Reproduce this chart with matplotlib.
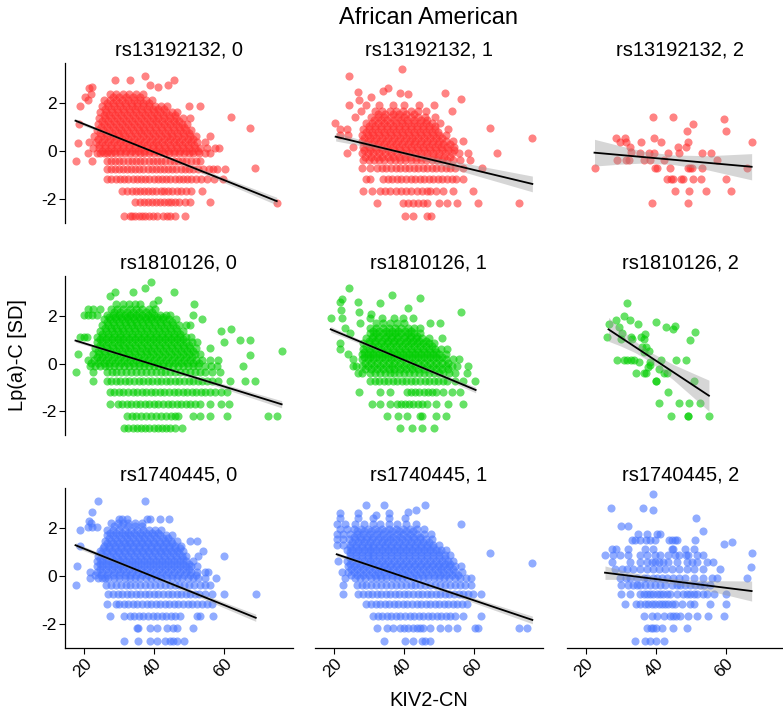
import numpy as np
import matplotlib.pyplot as plt

plt.rcParams['font.family'] = ['Liberation Sans', 'DejaVu Sans']
plt.rcParams['axes.unicode_minus'] = False

#################### data ####################
snps = ['rs13192132', 'rs1810126', 'rs1740445']
genotypes = ['0', '1', '2']
snp_colors = ['#FF3030', '#00CD00', '#4876FF']

# rs13192132, 0   (y level : KIV2-CN values)
p1_rows = {
    -2.72: [31.4, 33.0, 33.6, 34.5, 35.5, 36.6, 37.4, 38.5, 39.5, 40.9, 42.5, 43.5, 44.4, 46.0, 48.8],
    -2.15: [34.5, 35.8, 37.0, 38.2, 39.3, 40.5, 41.5, 42.7, 43.8, 44.8, 46.0, 47.2, 48.8, 50.3, 55.9],
    -1.68: [30.9, 32.2, 33.6, 34.8, 36.0, 37.2, 38.3, 39.4, 40.6, 41.8, 42.9, 44.0, 45.2, 46.4, 47.5, 49.0, 50.5, 53.5],
    -1.17: [26.4, 27.7, 29.0, 30.2, 31.4, 32.6, 33.8, 35.0, 36.2, 37.4, 38.6, 39.8, 41.0, 42.2, 43.4, 44.6, 45.8, 47.0,
            48.2, 49.4, 50.6, 52.0, 53.3, 55.0, 57.0, 59.7],
    -0.75: [26.4, 27.5, 28.7, 29.9, 31.0, 32.2, 33.4, 34.6, 35.7, 36.9, 38.1, 39.3, 40.4, 41.6, 42.8, 44.0, 45.1, 46.3,
            47.5, 48.7, 49.9, 51.2, 52.6, 54.0, 55.5, 56.8, 58.0, 60.2],
    -0.40: [22.1, 26.4, 27.6, 28.8, 30.0, 31.2, 32.4, 33.6, 34.8, 36.0, 37.2, 38.4, 39.6, 40.8, 42.0, 43.2, 44.4, 45.6,
            46.8, 48.0, 49.2, 50.4, 51.8, 53.0],
    -0.10: [21.0, 23.6, 24.6, 25.5, 26.5, 27.5, 28.8, 30.2, 31.6, 33.0, 34.4, 35.8, 37.2, 38.6, 40.0, 41.4, 42.8, 44.2,
            45.6, 47.0, 48.4, 49.8, 51.2, 52.8, 54.5, 56.0],
    0.01: [25.0, 26.9, 28.6, 30.3, 32.0, 33.7, 35.4, 37.1, 38.8, 40.5, 42.2, 43.9, 45.6, 47.3, 49.0, 50.7, 52.4],
    0.12: [22.6, 24.3, 26.0, 27.7, 29.4, 31.1, 32.8, 34.5, 36.2, 37.9, 39.6, 41.3, 43.0, 44.7, 46.4, 48.1, 49.8, 51.5,
           53.2, 55.0, 57.3, 58.6],
    0.25: [24.2, 25.9, 27.6, 29.3, 31.0, 32.7, 34.4, 36.1, 37.8, 39.5, 41.2, 42.9, 44.6, 46.3, 48.0, 49.7, 51.4],
    0.37: [21.4, 23.4, 25.1, 26.8, 28.5, 30.2, 31.9, 33.6, 35.3, 37.0, 38.7, 40.4, 42.1, 43.8, 45.5, 47.2, 48.9, 50.6,
           52.3, 54.5],
    0.50: [24.0, 25.7, 27.4, 29.1, 30.8, 32.5, 34.2, 35.9, 37.6, 39.3, 41.0, 42.7, 44.4, 46.1, 47.8, 49.5, 51.0],
    0.62: [22.9, 24.8, 26.5, 28.2, 29.9, 31.6, 33.3, 35.0, 36.7, 38.4, 40.1, 41.8, 43.5, 45.2, 46.9, 48.6, 50.3, 51.8, 55.9],
    0.75: [24.4, 26.1, 27.8, 29.5, 31.2, 32.9, 34.6, 36.3, 38.0, 39.7, 41.4, 43.1, 44.8, 46.5, 48.2, 49.8],
    0.87: [23.5, 25.3, 27.0, 28.7, 30.4, 32.1, 33.8, 35.5, 37.2, 38.9, 40.6, 42.3, 44.0, 45.7, 47.4, 49.1, 50.6],
    1.00: [24.9, 26.6, 28.3, 30.0, 31.7, 33.4, 35.1, 36.8, 38.5, 40.2, 41.9, 43.6, 45.3, 47.0, 48.6],
    1.12: [18.6, 24.0, 25.7, 27.4, 29.1, 30.8, 32.5, 34.2, 35.9, 37.6, 39.3, 41.0, 42.7, 44.4, 46.1, 47.8, 49.4],
    1.25: [25.1, 26.8, 28.5, 30.2, 31.9, 33.6, 35.3, 37.0, 38.7, 40.4, 42.1, 43.8, 45.5, 47.2],
    1.37: [24.2, 25.9, 27.6, 29.3, 31.0, 32.7, 34.4, 36.1, 37.8, 39.5, 41.2, 42.9, 44.6, 46.3, 48.2, 50.2],
    1.50: [25.5, 27.2, 28.9, 30.6, 32.3, 34.0, 35.7, 37.4, 39.1, 40.8, 42.5, 44.2, 45.8],
    1.62: [24.6, 26.3, 28.0, 29.7, 31.4, 33.1, 34.8, 36.5, 38.2, 39.9, 41.6, 43.3, 45.0, 46.5],
    1.75: [25.9, 27.6, 29.3, 31.0, 32.7, 34.4, 36.1, 37.8, 39.5, 41.2, 42.8],
    1.87: [18.8, 25.0, 26.7, 28.4, 30.1, 31.8, 33.5, 35.2, 36.9, 38.6, 40.3, 42.0, 43.6, 50.0, 53.2],
    2.00: [26.5, 28.2, 29.9, 31.6, 33.3, 35.0, 36.7, 38.4],
    2.12: [21.2, 25.6, 27.3, 29.0, 30.7, 32.4, 34.1, 35.8, 37.5, 39.4],
    2.25: [28.3, 30.0, 31.8, 33.8, 35.8],
    2.37: [22.0, 27.4, 29.2, 31.0, 32.8, 34.8, 36.8],
}
p1_x = [20.2, 21.4, 22.1, 28.8, 33.0, 37.3, 38.8, 41.1, 44.0, 45.6, 17.5, 18.3, 61.9, 67.3, 68.9, 75.0]
p1_y = [2.25, 2.63, 2.70, 2.98, 2.98, 3.14, 2.77, 2.67, 2.77, 2.98, -0.41, 0.35, 1.44, 0.98, -0.73, -2.19]

# rs13192132, 1
p2_rows = {
    -2.71: [40.2, 42.4, 46.4, 47.5],
    -2.19: [32.1, 39.7, 41.1, 42.6, 44.0, 45.4, 46.4, 49.9, 52.1, 55.2, 61.1, 72.9],
    -1.68: [28.1, 30.7, 33.0, 34.5, 36.0, 37.5, 39.0, 40.5, 42.0, 43.5, 45.0, 46.4, 47.3, 49.2, 51.1, 54.0, 59.7],
    -1.17: [29.2, 30.2, 34.0, 35.3, 36.6, 37.9, 39.2, 40.5, 41.8, 43.1, 44.4, 45.7, 47.0, 48.3, 49.6, 50.9, 52.2, 53.5,
            54.8, 56.9],
    -0.73: [27.8, 30.2, 32.3, 33.6, 34.9, 36.2, 37.5, 38.8, 40.1, 41.4, 42.7, 44.0, 45.3, 46.6, 47.9, 49.2, 50.5, 51.8,
            53.1, 54.6, 56.9, 62.1],
    -0.38: [28.3, 29.8, 31.3, 32.8, 34.3, 35.8, 37.3, 38.8, 40.3, 41.8, 43.3, 44.8, 46.3, 47.8, 49.3, 50.8, 52.3, 54.0,
            56.0, 58.8],
    -0.23: [28.9, 30.5, 32.1, 33.7, 35.3, 36.9, 38.5, 40.1, 41.7, 43.3, 44.9, 46.5, 48.1, 49.7, 51.3, 53.0],
    -0.08: [23.5, 27.8, 29.5, 31.2, 32.9, 34.6, 36.3, 38.0, 39.7, 41.4, 43.1, 44.8, 46.5, 48.2, 49.9, 51.6, 53.5, 55.5, 58.3],
    0.05: [28.6, 30.3, 32.0, 33.7, 35.4, 37.1, 38.8, 40.5, 42.2, 43.9, 45.6, 47.3, 49.0, 50.7, 52.4, 54.2],
    0.17: [25.4, 28.3, 30.0, 31.7, 33.4, 35.1, 36.8, 38.5, 40.2, 41.9, 43.6, 45.3, 47.0, 48.7, 50.4, 52.2, 54.2],
    0.30: [29.1, 30.8, 32.5, 34.2, 35.9, 37.6, 39.3, 41.0, 42.7, 44.4, 46.1, 47.8, 49.5, 51.2, 53.0],
    0.42: [27.8, 29.6, 31.3, 33.0, 34.7, 36.4, 38.1, 39.8, 41.5, 43.2, 44.9, 46.6, 48.3, 50.0, 51.8, 54.0, 56.9],
    0.55: [28.6, 30.3, 32.0, 33.7, 35.4, 37.1, 38.8, 40.5, 42.2, 43.9, 45.6, 47.3, 49.0, 50.8],
    0.67: [21.6, 24.0, 27.8, 29.5, 31.2, 32.9, 34.6, 36.3, 38.0, 39.7, 41.4, 43.1, 44.8, 46.5, 48.2, 50.0, 52.0],
    0.80: [29.1, 30.8, 32.5, 34.2, 35.9, 37.6, 39.3, 41.0, 42.7, 44.4, 46.1, 47.8, 49.6],
    0.92: [21.6, 23.5, 28.3, 30.0, 31.7, 33.4, 35.1, 36.8, 38.5, 40.2, 41.9, 43.6, 45.3, 47.0, 48.8, 52.6],
    1.05: [30.0, 31.7, 33.4, 35.1, 36.8, 38.5, 40.2, 41.9, 43.6, 45.3, 47.0, 48.8],
    1.17: [20.2, 29.2, 30.9, 32.6, 34.3, 36.0, 37.7, 39.4, 41.1, 42.8, 44.5, 46.2, 48.0, 50.2],
    1.30: [31.4, 33.3, 35.2, 37.1, 39.0, 40.9, 42.8, 44.8, 46.5],
    1.42: [26.0, 30.5, 32.4, 34.3, 36.2, 38.1, 40.0, 41.9, 43.8, 45.8, 48.8],
    1.55: [32.5, 34.6, 36.7, 38.6, 40.6, 42.9],
    1.67: [27.5, 31.5, 33.5, 35.8, 37.6, 39.5, 41.8, 44.0, 46.2, 53.5],
    1.92: [24.2, 29.0, 32.8, 36.8, 40.0, 44.3, 48.5],
}
p2_x = [24.2, 39.4, 26.7, 33.8, 35.4, 38.8, 41.1, 51.6, 56.1, 30.4, 27.1, 64.5, 76.6, 66.4]
p2_y = [3.16, 3.42, 2.46, 2.53, 2.66, 2.45, 2.38, 2.45, 2.17, 2.25, 2.14, 0.98, 0.53, -0.10]

# rs13192132, 2
p3_rows = {}
p3_x = [22.5, 28.7, 29.8, 31.1, 31.4, 32.5, 32.9, 29.0, 31.5, 32.4, 35.5, 35.8, 36.7, 38.0, 38.4, 39.3, 39.6, 39.4,
        39.8, 40.3, 41.5, 42.4, 43.6, 44.1, 43.1, 44.3, 44.9, 45.0, 45.5, 46.3, 46.7, 47.1, 47.7, 48.9, 49.1, 48.7,
        49.3, 49.8, 50.3, 50.7, 50.6, 49.5, 49.3, 38.9, 53.3, 53.1, 52.8, 54.4, 55.8, 57.6, 59.5, 60.0, 60.0, 61.5,
        67.4, 66.2]
p3_y = [-0.73, 0.53, 0.36, 0.53, 0.36, 0.15, -0.05, -0.38, -0.38, -0.38, -0.10, 0.36, -0.38, -0.10, -0.38, 1.44,
        -0.10, 0.53, -0.73, -0.73, 0.36, -0.38, -0.10, -0.73, -1.17, -1.17, 1.44, -1.17, -1.68, 0.15, -0.10, -1.17,
        -1.17, 0.84, 0.36, 0.15, -0.73, -0.73, -0.73, 1.12, -1.17, -1.68, -2.19, -2.19, -0.10, -0.73, -1.17, -1.68,
        -0.10, -0.38, 1.34, 0.84, -1.17, -1.68, 0.36, -0.73]

# rs1810126, 0
p4_rows = {
    -2.71: [31.4, 32.6, 33.8, 35.0, 36.2, 37.4, 38.6, 39.8, 41.0, 42.2, 43.4, 44.6, 45.8, 47.8],
    -2.18: [32.1, 33.5, 34.9, 36.3, 37.7, 39.1, 40.5, 41.9, 43.3, 44.7, 46.0, 46.9, 51.1, 53.0, 55.9, 60.7, 72.6, 75.1],
    -1.68: [27.3, 29.5, 30.8, 32.1, 33.4, 34.7, 36.0, 37.3, 38.6, 39.9, 41.2, 42.5, 43.8, 45.1, 46.4, 47.7, 49.0, 50.3,
            51.6, 53.0, 55.9, 59.2, 61.4],
    -1.17: [27.3, 28.6, 29.9, 31.2, 32.5, 33.8, 35.1, 36.4, 37.7, 39.0, 40.3, 41.6, 42.9, 44.2, 45.5, 46.8, 48.1, 49.4,
            50.7, 52.0, 53.3, 54.6, 55.9, 57.3, 59.2, 60.7],
    -0.73: [22.6, 26.4, 27.7, 29.0, 30.3, 31.6, 32.9, 34.2, 35.5, 36.8, 38.1, 39.4, 40.7, 42.0, 43.3, 44.6, 45.9, 47.2,
            48.5, 49.8, 51.1, 52.4, 53.7, 55.0, 56.5, 58.3, 61.6, 65.9, 68.8],
    -0.36: [17.5, 22.6, 26.4, 27.8, 29.2, 30.6, 32.0, 33.4, 34.8, 36.2, 37.6, 39.0, 40.4, 41.8, 43.2, 44.6, 46.0, 47.4,
            48.8, 50.2, 51.6, 53.0, 54.5, 56.5, 58.8],
    -0.08: [21.6, 23.0, 24.4, 25.8, 27.2, 28.6, 30.0, 31.4, 32.8, 34.2, 35.6, 37.0, 38.4, 39.8, 41.2, 42.6, 44.0, 45.4,
            46.8, 48.2, 49.6, 51.0, 52.6, 54.5, 56.2, 57.8, 65.4],
    0.04: [22.0, 23.8, 25.5, 27.2, 28.9, 30.6, 32.3, 34.0, 35.7, 37.4, 39.1, 40.8, 42.5, 44.2, 45.9, 47.6, 49.3, 51.0, 52.8],
    0.17: [21.1, 22.9, 24.6, 26.3, 28.0, 29.7, 31.4, 33.1, 34.8, 36.5, 38.2, 39.9, 41.6, 43.3, 45.0, 46.7, 48.4, 50.1,
           51.8, 53.6, 55.9, 58.3],
    0.30: [23.5, 25.2, 26.9, 28.6, 30.3, 32.0, 33.7, 35.4, 37.1, 38.8, 40.5, 42.2, 43.9, 45.6, 47.3, 49.0, 50.7],
    0.42: [18.3, 22.6, 24.3, 26.0, 27.7, 29.4, 31.1, 32.8, 34.5, 36.2, 37.9, 39.6, 41.3, 43.0, 44.7, 46.4, 48.1, 49.8,
           51.5, 53.0],
    0.55: [23.9, 25.6, 27.3, 29.0, 30.7, 32.4, 34.1, 35.8, 37.5, 39.2, 40.9, 42.6, 44.3, 46.0, 47.7, 49.4, 51.0],
    0.67: [23.0, 24.7, 26.4, 28.1, 29.8, 31.5, 33.2, 34.9, 36.6, 38.3, 40.0, 41.7, 43.4, 45.1, 46.8, 48.5, 50.2, 52.0, 55.9],
    0.80: [24.4, 26.1, 27.8, 29.5, 31.2, 32.9, 34.6, 36.3, 38.0, 39.7, 41.4, 43.1, 44.8, 46.5, 48.2, 49.8],
    0.92: [23.5, 25.2, 26.9, 28.6, 30.3, 32.0, 33.7, 35.4, 37.1, 38.8, 40.5, 42.2, 43.9, 45.6, 47.3, 49.0, 50.7, 52.2, 60.0],
    1.02: [24.4, 26.1, 27.8, 29.5, 31.2, 32.9, 34.6, 36.3, 38.0, 39.7, 41.4, 43.1, 44.8, 46.5, 48.2],
    1.12: [18.8, 20.0, 20.7, 23.5, 25.2, 26.9, 28.6, 30.3, 32.0, 33.7, 35.4, 37.1, 38.8, 40.5, 42.2, 43.9, 45.6, 47.3,
           49.0, 50.6],
    1.25: [25.2, 26.9, 28.6, 30.3, 32.0, 33.7, 35.4, 37.1, 38.8, 40.5, 42.2, 43.9, 45.6, 47.3],
    1.37: [24.4, 26.1, 27.8, 29.5, 31.2, 32.9, 34.6, 36.3, 38.0, 39.7, 41.4, 43.1, 44.8, 46.5, 48.3, 59.2],
    1.50: [25.8, 27.5, 29.2, 30.9, 32.6, 34.3, 36.0, 37.7, 39.4, 41.1, 42.8, 44.5, 46.2],
    1.62: [25.0, 26.7, 28.4, 30.1, 31.8, 33.5, 35.2, 36.9, 38.6, 40.3, 42.0, 43.7, 45.4, 47.1, 49.2, 50.2],
    1.75: [26.4, 28.1, 29.8, 31.5, 33.2, 34.9, 36.6, 38.3, 40.0, 41.7, 43.4, 45.2],
    1.87: [25.6, 27.3, 29.0, 30.7, 32.4, 34.1, 35.8, 37.5, 39.2, 40.9, 42.6, 44.3, 46.2, 53.5],
    1.96: [27.2, 28.9, 30.6, 32.3, 34.0, 35.7, 37.4, 39.1, 40.8, 42.5],
    2.05: [20.0, 21.0, 22.2, 23.5, 26.4, 28.1, 29.8, 31.5, 33.2, 34.9, 36.6, 38.3, 40.0, 41.7, 43.4, 44.5, 51.1],
    2.17: [28.5, 30.3, 32.1, 33.9, 35.7, 37.5, 39.3],
    2.28: [21.2, 22.5, 24.5, 27.6, 29.4, 31.2, 33.0, 34.8, 36.6, 38.4, 40.2],
    2.50: [29.2, 31.0, 32.8, 34.6, 35.9, 39.5],
}
p4_x = [39.0, 37.3, 33.8, 28.8, 27.3, 45.6, 51.4, 41.1, 61.9, 64.5, 67.3, 67.3, 76.4]
p4_y = [3.44, 3.16, 2.99, 2.99, 2.84, 2.99, 2.49, 2.67, 1.44, 0.99, 0.99, 0.36, 0.55]

# rs1810126, 1
p5_rows = {
    -2.71: [38.8, 42.3, 45.2, 48.6],
    -2.18: [35.2, 38.1, 40.7, 44.5, 45.1, 49.2, 51.9],
    -1.68: [30.7, 33.0, 35.9, 37.8, 39.0, 40.2, 41.4, 42.6, 43.8, 45.0, 46.4, 49.2, 52.6, 56.9],
    -1.17: [27.0, 33.0, 35.9, 40.7, 41.9, 43.1, 44.3, 45.5, 46.7, 47.9, 49.2, 51.1, 53.5, 55.9],
    -0.73: [30.2, 31.5, 32.8, 34.1, 35.4, 36.7, 38.0, 39.3, 40.6, 41.9, 43.2, 44.5, 45.8, 47.1, 48.4, 49.7, 51.0, 52.1,
            54.5, 56.9, 60.2],
    -0.38: [26.9, 27.8, 30.2, 31.6, 33.0, 34.4, 35.8, 37.2, 38.6, 40.0, 41.4, 42.8, 44.2, 45.6, 47.0, 48.4, 49.8, 51.2,
            52.8, 54.5, 57.8],
    -0.24: [28.7, 30.4, 32.1, 33.8, 35.5, 37.2, 38.9, 40.6, 42.3, 44.0, 45.7, 47.4, 49.1, 50.8, 52.5],
    -0.10: [25.4, 26.2, 27.9, 29.6, 31.3, 33.0, 34.7, 36.4, 38.1, 39.8, 41.5, 43.2, 44.9, 46.6, 48.3, 50.0, 51.8, 53.5,
            55.0, 58.3],
    0.04: [28.7, 30.4, 32.1, 33.8, 35.5, 37.2, 38.9, 40.6, 42.3, 44.0, 45.7, 47.4, 49.1, 50.8, 52.6],
    0.18: [25.4, 27.8, 29.5, 31.2, 32.9, 34.6, 36.3, 38.0, 39.7, 41.4, 43.1, 44.8, 46.5, 48.2, 50.0, 51.8, 54.0, 55.7],
    0.29: [28.6, 30.3, 32.0, 33.7, 35.4, 37.1, 38.8, 40.5, 42.2, 43.9, 45.6, 47.3, 49.0, 50.8],
    0.40: [24.0, 27.8, 29.5, 31.2, 32.9, 34.6, 36.3, 38.0, 39.7, 41.4, 43.1, 44.8, 46.5, 48.2, 50.0, 52.0],
    0.51: [28.6, 30.3, 32.0, 33.7, 35.4, 37.1, 38.8, 40.5, 42.2, 43.9, 45.6, 47.3, 49.0],
    0.62: [21.6, 28.3, 30.0, 31.7, 33.4, 35.1, 36.8, 38.5, 40.2, 41.9, 43.6, 45.3, 47.0, 48.8, 50.6, 52.1],
    0.74: [29.1, 30.8, 32.5, 34.2, 35.9, 37.6, 39.3, 41.0, 42.7, 44.4, 46.1, 47.8],
    0.85: [21.6, 28.3, 30.0, 31.7, 33.4, 35.1, 36.8, 38.5, 40.2, 41.9, 43.6, 45.3, 47.0, 48.6],
    0.96: [29.9, 31.7, 33.5, 35.3, 37.1, 38.9, 40.7, 42.5, 44.3, 46.1],
    1.08: [29.0, 30.8, 32.6, 34.4, 36.2, 38.0, 39.8, 41.6, 43.4, 45.2, 47.0, 50.9],
    1.18: [31.1, 32.9, 34.7, 36.5, 38.3, 40.1, 41.9, 43.7],
    1.28: [24.5, 30.2, 32.0, 33.8, 35.6, 37.4, 39.2, 41.0, 42.8, 44.6],
    1.39: [31.1, 32.9, 34.7, 36.5, 38.3, 40.1, 41.9],
    1.50: [23.0, 30.2, 32.0, 33.8, 35.6, 37.4, 39.2, 41.0, 42.8, 44.5],
    1.72: [27.3, 31.8, 33.8, 35.8, 37.8, 40.0, 47.3, 50.2],
    1.92: [19.0, 22.1, 30.2, 33.5, 37.0, 39.5, 42.5],
}
p5_x = [24.2, 22.1, 21.6, 26.9, 21.8, 27.0, 30.4, 33.2, 36.4, 41.1, 44.5, 56.1]
p5_y = [3.16, 2.70, 2.60, 2.60, 2.25, 2.15, 2.08, 2.53, 2.88, 2.35, 2.77, 2.15]

# rs1810126, 2
p6_rows = {}
p6_x = [31.9, 30.8, 32.5, 34.9, 28.7, 26.5, 29.6, 26.2, 30.3, 30.0, 32.9, 33.1, 35.7, 37.0, 36.7, 36.0, 37.2, 38.2,
        36.7, 40.1, 42.8, 44.8, 45.5, 51.2, 49.8, 29.0, 31.0, 31.9, 32.9, 33.8, 35.3, 38.4, 38.4, 41.4, 45.8, 48.7,
        37.9, 34.4, 36.5, 37.2, 40.8, 42.4, 43.1, 40.1, 40.1, 51.0, 43.6, 41.0, 46.5, 49.5, 52.5, 44.4, 49.1, 49.1, 55.2]
p6_y = [2.56, 2.00, 1.83, 1.66, 1.83, 1.66, 1.55, 1.13, 1.30, 1.02, 1.13, 1.02, 1.13, 1.24, 1.02, 0.71, 0.71, 0.55,
        0.50, 1.76, 1.55, 1.44, 1.58, 1.34, 0.99, 0.15, 0.15, 0.15, 0.15, 0.15, 0.08, 0.08, -0.06, 0.15, 0.15, 0.15,
        -0.13, -0.38, -0.38, -0.38, -0.24, -0.38, -0.38, -0.73, -0.73, -0.73, -1.17, -1.66, -1.66, -1.66, -1.66,
        -2.18, -2.18, -2.18, -2.18]

# rs1740445, 0
p7_rows = {
    -2.73: [31.4, 35.4, 38.8, 40.9, 43.0, 44.5, 45.4, 46.4, 48.5],
    -2.19: [35.0, 35.4, 38.8, 40.7, 43.5, 45.4, 46.4, 51.0],
    -1.66: [27.3, 31.4, 33.0, 34.3, 35.6, 36.9, 38.2, 39.5, 40.8, 42.1, 43.4, 44.7, 46.0, 47.3, 52.1, 53.0, 56.7],
    -1.16: [26.6, 29.0, 30.0, 31.3, 32.6, 33.9, 35.2, 36.5, 37.8, 39.1, 40.4, 41.7, 43.0, 44.3, 45.6, 46.9, 48.2, 49.5,
            50.8, 52.1, 53.5, 55.0, 56.4],
    -0.74: [26.9, 28.2, 29.5, 30.8, 32.1, 33.4, 34.7, 36.0, 37.3, 38.6, 39.9, 41.2, 42.5, 43.8, 45.1, 46.4, 47.7, 49.0,
            50.3, 51.6, 52.9, 54.4, 56.4, 60.0, 69.0],
    -0.38: [17.5, 26.2, 27.6, 29.0, 30.4, 31.8, 33.2, 34.6, 36.0, 37.4, 38.8, 40.2, 41.6, 43.0, 44.4, 45.8, 47.2, 48.6,
            50.0, 51.4, 53.0, 54.5, 55.9],
    -0.07: [21.6, 24.0, 25.0, 26.0, 26.9, 28.5, 30.0, 31.5, 33.0, 34.5, 36.0, 37.5, 39.0, 40.5, 42.0, 43.5, 45.0, 46.5,
            48.0, 49.5, 51.0, 52.6, 54.5, 57.6],
    0.05: [23.0, 24.7, 26.4, 28.1, 29.8, 31.5, 33.2, 34.9, 36.6, 38.3, 40.0, 41.7, 43.4, 45.1, 46.8, 48.5, 50.2, 51.9],
    0.18: [21.6, 23.5, 25.2, 26.9, 28.6, 30.3, 32.0, 33.7, 35.4, 37.1, 38.8, 40.5, 42.2, 43.9, 45.6, 47.3, 49.0, 50.6,
           52.1, 54.5, 55.4],
    0.29: [24.4, 26.1, 27.8, 29.5, 31.2, 32.9, 34.6, 36.3, 38.0, 39.7, 41.4, 43.1, 44.8, 46.5, 48.2, 49.9],
    0.40: [18.0, 23.5, 25.2, 26.9, 28.6, 30.3, 32.0, 33.7, 35.4, 37.1, 38.8, 40.5, 42.2, 43.9, 45.6, 47.3, 49.0, 50.6, 52.1],
    0.51: [24.4, 26.1, 27.8, 29.5, 31.2, 32.9, 34.6, 36.3, 38.0, 39.7, 41.4, 43.1, 44.8, 46.5, 48.2, 49.8],
    0.62: [23.5, 25.2, 26.9, 28.6, 30.3, 32.0, 33.7, 35.4, 37.1, 38.8, 40.5, 42.2, 43.9, 45.6, 47.3, 49.0, 51.1],
    0.73: [24.4, 26.1, 27.8, 29.5, 31.2, 32.9, 34.6, 36.3, 38.0, 39.7, 41.4, 43.1, 44.8, 46.5, 48.2],
    0.84: [24.0, 25.7, 27.4, 29.1, 30.8, 32.5, 34.2, 35.9, 37.6, 39.3, 41.0, 42.7, 44.4, 46.1, 47.8, 49.2, 52.6, 60.0],
    0.95: [24.9, 26.6, 28.3, 30.0, 31.7, 33.4, 35.1, 36.8, 38.5, 40.2, 41.9, 43.6, 45.3, 47.0],
    1.06: [24.5, 26.2, 27.9, 29.6, 31.3, 33.0, 34.7, 36.4, 38.1, 39.8, 41.5, 43.2, 44.9, 46.6, 48.3, 54.0],
    1.16: [25.4, 27.1, 28.8, 30.5, 32.2, 33.9, 35.6, 37.3, 39.0, 40.7, 42.4, 44.1, 45.8, 47.4],
    1.26: [18.8, 25.5, 27.2, 28.9, 30.6, 32.3, 34.0, 35.7, 37.4, 39.1, 40.8, 42.5, 44.2, 45.9, 47.6],
    1.37: [26.4, 28.1, 29.8, 31.5, 33.2, 34.9, 36.6, 38.3, 40.0, 41.7, 43.4, 45.1],
    1.48: [26.0, 27.7, 29.4, 31.1, 32.8, 34.5, 36.2, 37.9, 39.6, 41.3, 43.0, 44.7, 46.4, 50.2, 52.3],
    1.59: [27.0, 28.7, 30.4, 32.1, 33.8, 35.5, 37.2, 38.9, 40.6, 42.4, 44.0],
    1.70: [26.4, 28.1, 29.8, 31.5, 33.2, 34.9, 36.6, 38.3, 40.0, 41.7, 43.3, 45.0],
    1.81: [27.4, 29.1, 30.8, 32.5, 34.2, 35.9, 37.6, 39.3, 41.0],
    1.92: [18.8, 26.5, 28.2, 29.9, 31.6, 33.3, 35.0, 36.7, 38.4, 40.1, 42.0],
    2.05: [21.1, 22.2, 23.5],
    2.10: [28.5, 30.5, 32.5, 34.5, 36.5],
    2.22: [22.0, 27.5, 29.5, 31.0, 32.5, 34.5, 36.5],
    2.40: [30.0, 30.8, 32.2, 37.8, 38.8, 41.6, 44.3],
}
p7_x = [24.0, 22.1, 21.4, 37.3]
p7_y = [3.16, 2.70, 2.32, 3.16]

# rs1740445, 1
p8_rows = {
    -2.73: [34.3, 40.2, 42.4, 45.0, 46.0, 47.3],
    -2.17: [32.3, 35.0, 36.9, 38.8, 40.0, 41.2, 42.4, 43.6, 44.5, 45.4, 47.3, 50.2, 52.6, 55.0, 60.2, 61.1, 72.9, 75.2],
    -1.66: [31.1, 32.4, 33.7, 35.0, 36.3, 37.6, 38.9, 40.2, 41.5, 42.8, 44.1, 45.4, 46.7, 48.0, 49.3, 50.6, 51.9, 53.2,
            54.5, 56.9, 61.8],
    -1.16: [29.2, 30.5, 31.8, 33.1, 34.4, 35.7, 37.0, 38.3, 39.6, 40.9, 42.2, 43.5, 44.8, 46.1, 47.4, 48.7, 50.0, 51.3,
            52.6, 53.9, 55.2, 56.5, 57.8],
    -0.74: [22.6, 26.9, 28.2, 29.5, 30.8, 32.1, 33.4, 34.7, 36.0, 37.3, 38.6, 39.9, 41.2, 42.5, 43.8, 45.1, 46.4, 47.7,
            49.0, 50.3, 51.6, 52.9, 54.2, 55.5, 56.8, 58.2, 59.7, 61.9],
    -0.38: [22.6, 26.4, 27.8, 29.2, 30.6, 32.0, 33.4, 34.8, 36.2, 37.6, 39.0, 40.4, 41.8, 43.2, 44.6, 46.0, 47.4, 48.8,
            50.2, 51.6, 53.0, 54.4, 55.8, 57.4, 59.2],
    -0.10: [23.0, 25.9, 27.4, 28.9, 30.4, 31.9, 33.4, 34.9, 36.4, 37.9, 39.4, 40.9, 42.4, 43.9, 45.4, 46.9, 48.4, 49.9,
            51.4, 52.9, 54.4, 56.0, 57.6, 59.0],
    0.03: [24.7, 26.4, 28.1, 29.8, 31.5, 33.2, 34.9, 36.6, 38.3, 40.0, 41.7, 43.4, 45.1, 46.8, 48.5, 50.2, 51.9, 53.6, 55.3],
    0.16: [22.1, 24.0, 25.7, 27.4, 29.1, 30.8, 32.5, 34.2, 35.9, 37.6, 39.3, 41.0, 42.7, 44.4, 46.1, 47.8, 49.5, 51.2,
           52.9, 54.5, 56.5],
    0.28: [24.9, 26.6, 28.3, 30.0, 31.7, 33.4, 35.1, 36.8, 38.5, 40.2, 41.9, 43.6, 45.3, 47.0, 48.7, 50.4, 52.1, 53.8],
    0.40: [24.0, 25.7, 27.4, 29.1, 30.8, 32.5, 34.2, 35.9, 37.6, 39.3, 41.0, 42.7, 44.4, 46.1, 47.8, 49.5, 51.2, 52.9,
           54.5, 56.1],
    0.52: [24.4, 26.1, 27.8, 29.5, 31.2, 32.9, 34.6, 36.3, 38.0, 39.7, 41.4, 43.1, 44.8, 46.5, 48.2, 49.9, 51.6, 53.2],
    0.64: [21.0, 23.5, 25.2, 26.9, 28.6, 30.3, 32.0, 33.7, 35.4, 37.1, 38.8, 40.5, 42.2, 43.9, 45.6, 47.3, 49.0, 50.7,
           52.4, 54.0],
    0.76: [24.4, 26.1, 27.8, 29.5, 31.2, 32.9, 34.6, 36.3, 38.0, 39.7, 41.4, 43.1, 44.8, 46.5, 48.2, 49.9, 51.6],
    0.88: [24.4, 26.1, 27.8, 29.5, 31.2, 32.9, 34.6, 36.3, 38.0, 39.7, 41.4, 43.1, 44.8, 46.5, 48.2, 49.9, 51.6, 53.0],
    0.99: [24.4, 26.1, 27.8, 29.5, 31.2, 32.9, 34.6, 36.3, 38.0, 39.7, 41.4, 43.1, 44.8, 46.5, 48.2, 49.8],
    1.10: [23.5, 25.2, 26.9, 28.6, 30.3, 32.0, 33.7, 35.4, 37.1, 38.8, 40.5, 42.2, 43.9, 45.6, 47.3, 49.0, 50.6, 52.0],
    1.21: [24.4, 26.1, 27.8, 29.5, 31.2, 32.9, 34.6, 36.3, 38.0, 39.7, 41.4, 43.1, 44.8, 46.5, 48.2],
    1.32: [20.7, 22.5, 24.4, 26.1, 27.8, 29.5, 31.2, 32.9, 34.6, 36.3, 38.0, 39.7, 41.4, 43.1, 44.8, 46.5, 48.2, 50.0],
    1.43: [25.0, 26.7, 28.4, 30.1, 31.8, 33.5, 35.2, 36.9, 38.6, 40.3, 42.0, 43.7, 45.4, 47.0],
    1.54: [20.7, 22.4, 24.1, 25.8, 27.5, 29.2, 30.9, 32.6, 34.3, 36.0, 37.7, 39.4, 41.1, 42.8, 44.5, 46.2, 48.0],
    1.65: [25.5, 27.4, 29.3, 31.2, 33.1, 35.0, 36.9, 38.8, 40.7, 42.6, 44.5],
    1.76: [20.7, 22.6, 24.5, 26.4, 28.3, 30.2, 32.1, 34.0, 35.9, 37.8, 39.7, 41.6, 43.5, 45.5, 47.5],
    1.87: [26.6, 28.6, 30.6, 32.6, 34.6, 36.6, 38.6, 40.6, 42.6],
    1.98: [21.6, 23.6, 25.6, 27.6, 29.6, 31.6, 33.6, 35.6, 37.6, 39.6, 41.6, 43.6, 45.5],
    2.20: [20.7, 23.0, 26.0, 28.5, 31.0, 33.0, 35.5, 38.0, 40.5, 43.3, 56.2],
    2.42: [21.6, 26.9, 31.0, 35.5, 40.3],
}
p8_x = [21.6, 26.9, 29.0, 34.3, 31.9, 35.5, 41.1, 43.3, 45.9, 64.5, 76.6]
p8_y = [2.63, 2.63, 2.98, 2.98, 2.56, 2.63, 2.67, 2.77, 2.98, 0.98, 0.53]

# rs1740445, 2
p9_rows = {
    -2.73: [34.1, 37.0, 38.4, 40.1, 42.4],
    -2.19: [37.6, 38.7, 39.3, 40.1, 41.7, 45.0, 48.9],
    -1.66: [36.5, 38.9, 40.3, 42.4, 44.1, 45.0, 45.8, 47.0, 49.3, 51.7, 55.0, 59.6],
    -1.16: [31.2, 34.4, 35.5, 37.0, 37.9, 38.9, 39.8, 40.8, 41.7, 42.7, 43.6, 44.6, 45.5, 47.4, 49.8, 50.8, 55.5, 60.1],
    -0.74: [30.1, 32.5, 35.5, 36.5, 37.4, 38.4, 39.3, 40.3, 41.2, 42.2, 43.1, 44.1, 46.0, 47.9, 48.9, 49.8, 50.8, 51.7,
            53.6, 54.6, 56.5, 60.0],
    -0.38: [30.1, 32.2, 33.6, 34.6, 35.5, 37.0, 38.4, 39.8, 41.2, 42.7, 44.6, 46.0, 47.0, 48.4, 49.8, 51.2, 52.7, 53.8, 55.5],
    -0.07: [29.8, 31.5, 32.7, 34.6, 36.5, 37.4, 39.3, 40.3, 41.7, 43.1, 45.0, 46.5, 48.4, 50.8, 53.6, 56.0, 57.4, 66.2],
    0.28: [28.4, 30.3, 31.7, 33.6, 35.5, 37.4, 39.3, 40.8, 42.7, 44.6, 46.5, 48.9, 50.8, 53.6, 58.4],
    0.60: [27.4, 32.7, 35.5, 37.4, 38.9, 39.8, 40.8, 42.2, 43.6, 46.0, 48.9, 50.3, 51.7, 54.6, 56.3],
    0.88: [25.5, 27.9, 29.8, 32.2, 35.5, 37.4, 39.8, 41.2, 43.6, 45.5, 46.5, 48.7, 49.3, 51.7, 53.6],
    1.13: [27.4, 28.6, 32.2, 37.0, 39.3, 44.6, 45.0, 48.4, 51.0],
    1.51: [33.1, 34.1, 35.5, 37.2, 38.4, 39.8, 43.9, 44.6, 45.5, 46.0, 51.2],
    1.76: [34.9, 37.4, 40.3, 41.2],
    2.10: [30.1, 32.2],
}
p9_x = [67.2, 67.4, 59.5, 61.9, 53.4, 27.2, 36.3, 39.1, 51.4, 39.1]
p9_y = [0.36, 0.98, 1.33, 1.44, 1.90, 2.84, 2.84, 2.77, 2.45, 3.42]

# linear fits: line ends and 95% band half-width
fit_x0 = [17.5, 20.4, 22.5, 17.5, 19.0, 26.5, 17.5, 20.7, 25.5]
fit_x1 = [75.0, 76.6, 67.4, 76.4, 60.4, 55.2, 69.0, 76.6, 67.4]
fit_y0 = [1.27, 0.60, -0.07, 0.97, 1.44, 1.44, 1.29, 0.91, 0.14]
fit_y1 = [-2.10, -1.38, -0.66, -1.70, -1.10, -1.34, -1.75, -1.84, -0.63]
band_x = [[17.5, 37, 75.0], [20.4, 38, 76.6], [22.5, 30, 37, 45, 55, 67.4],
          [17.5, 37, 76.4], [19.0, 37, 60.4], [26.5, 30, 34, 38, 45, 50, 55.2],
          [17.5, 37, 69.0], [20.7, 37, 76.6], [25.5, 32, 40, 50, 58, 67.4]]
band_hw = [[0.08, 0.03, 0.16], [0.18, 0.05, 0.33], [0.56, 0.38, 0.24, 0.20, 0.30, 0.55],
           [0.07, 0.03, 0.15], [0.12, 0.04, 0.12], [0.50, 0.36, 0.24, 0.20, 0.32, 0.48, 0.65],
           [0.10, 0.04, 0.15], [0.08, 0.03, 0.16], [0.28, 0.16, 0.10, 0.15, 0.26, 0.42]]

panels = [(p1_rows, p1_x, p1_y), (p2_rows, p2_x, p2_y), (p3_rows, p3_x, p3_y),
          (p4_rows, p4_x, p4_y), (p5_rows, p5_x, p5_y), (p6_rows, p6_x, p6_y),
          (p7_rows, p7_x, p7_y), (p8_rows, p8_x, p8_y), (p9_rows, p9_x, p9_y)]


def expand(rows, ex, ey):
    xs, ys = [], []
    for yv, xl in rows.items():
        xs += xl
        ys += [yv] * len(xl)
    return np.array(xs + ex), np.array(ys + ey)


#################### layout ####################
W, H = 783, 713
fig = plt.figure(figsize=(W / 100, H / 100), dpi=100)
lefts = [65, 315, 566.5]
tops = [63.2, 275.9, 488.2]
pw, ph = 227.5, 159.4

for r in range(3):
    for c in range(3):
        k = r * 3 + c
        ax = fig.add_axes([lefts[c] / W, 1 - (tops[r] + ph) / H, pw / W, ph / H])
        x, y = expand(*panels[k])
        ax.scatter(x, y, s=34, color=snp_colors[r], alpha=0.6, linewidths=0, zorder=2)

        bx = np.array(band_x[k], dtype=float)
        by = np.interp(bx, [fit_x0[k], fit_x1[k]], [fit_y0[k], fit_y1[k]])
        hw = np.array(band_hw[k])
        ax.fill_between(bx, by - hw, by + hw, color='#999999', alpha=0.4, linewidth=0, zorder=3)
        ax.plot([fit_x0[k], fit_x1[k]], [fit_y0[k], fit_y1[k]], color='black', lw=1.3, zorder=4)

        ax.set_xlim(14.5, 79.5)
        ax.set_ylim(-3.0, 3.68)
        ax.set_xticks([20, 40, 60])
        ax.set_yticks([-2, 0, 2])
        for s in ['top', 'right']:
            ax.spines[s].set_visible(False)
        ax.spines['left'].set_visible(c == 0)
        ax.spines['bottom'].set_visible(r == 2)
        for s in ['left', 'bottom']:
            ax.spines[s].set_linewidth(0.9)
        ax.tick_params(axis='y', left=(c == 0), labelleft=(c == 0), length=4, width=0.8,
                       pad=2, labelsize=12.5)
        ax.tick_params(axis='x', bottom=(r == 2), labelbottom=(r == 2), length=4, width=0.8,
                       pad=2, labelsize=12.5)
        if r == 2:
            for lab in ax.get_xticklabels():
                lab.set_rotation(45)
                lab.set_ha('right')
                lab.set_va('top')
                lab.set_rotation_mode('anchor')
        ax.text(0.5, 1 + 13 / ph, snps[r] + ', ' + genotypes[c], transform=ax.transAxes,
                ha='center', va='center', fontsize=14.4)

fig.text(429 / W, 1 - 18 / H, 'African American', ha='center', va='center', fontsize=17)
fig.text(429 / W, 1 - 701 / H, 'KIV2-CN', ha='center', va='center', fontsize=14.4)
fig.text(18 / W, 1 - 355 / H, 'Lp(a)-C [SD]', ha='center', va='center', rotation=90, fontsize=14.4)

fig.savefig('out.png', dpi=100)
